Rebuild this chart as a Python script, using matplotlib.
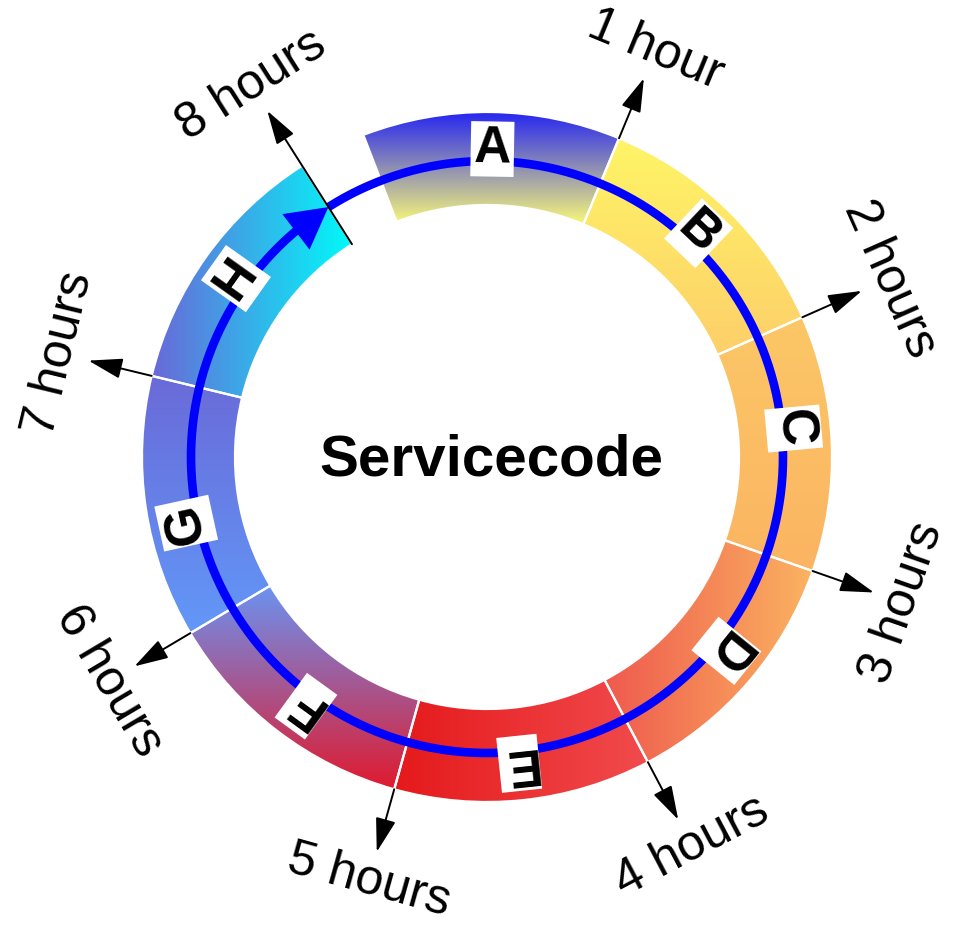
import numpy as np
import matplotlib
matplotlib.use("Agg")
import matplotlib.pyplot as plt
from matplotlib.patches import Wedge
from matplotlib.colors import LinearSegmentedColormap

plt.rcParams['font.family'] = ['Liberation Sans', 'DejaVu Sans']

CENTER_TITLE = "Servicecode"

# segments of the ring, angles in degrees (counter clockwise from 3 o'clock)
SEG_NAMES = ["A", "B", "C", "D", "E", "F", "G", "H"]
SEG_THETA1 = [67.5, 23.9, -19.3, -62.2, -105.6, -149.3, 166.4, 122.4]
SEG_THETA2 = [111.0, 67.5, 23.9, -19.3, -62.2, -105.6, 210.7, 166.4]
# gradient of each segment: first colour, second colour, direction
SEG_COL1 = ["#2424f2", "#fff566", "#fcc766", "#ef5a4e", "#e5191b", "#6b93f2", "#6a6ad8", "#6a68d8"]
SEG_COL2 = ["#f8f878", "#fdcf6a", "#fbb462", "#fbb461", "#f14b4d", "#e01a2e", "#6298f8", "#00fafa"]
SEG_DIR = ["v", "v", "v", "h", "h", "v", "v", "h"]
LETTER_ANGLES = [89.0, 46.6, 5.3, -39.0, -84.0, -126.0, -167.6, 144.6]

# hour marks
HOUR_LABELS = ["1 hour", "2 hours", "3 hours", "4 hours", "5 hours", "6 hours", "7 hours", "8 hours"]
HOUR_ANGLES = [67.5, 23.9, -19.3, -62.2, -105.6, -149.3, 166.4, 122.4]

R_IN = 252
R_OUT = 345
R_LOOP = 296
R_TIP = 410
R_LABEL = 440
R_LETTER = 308

fig = plt.figure(figsize=(9.55, 9.25), dpi=100)
ax = fig.add_axes([0, 0, 1, 1])
ax.set_xlim(-487, 468)
ax.set_ylim(-468, 457)
ax.axis('off')


def pol(r, a):
    return r * np.cos(np.radians(a)), r * np.sin(np.radians(a))


# gradient filled segments
for i in range(len(SEG_NAMES)):
    t1, t2 = SEG_THETA1[i], SEG_THETA2[i]
    th = np.radians(np.linspace(t1, t2, 200))
    xs = np.concatenate([R_OUT * np.cos(th), R_IN * np.cos(th)])
    ys = np.concatenate([R_OUT * np.sin(th), R_IN * np.sin(th)])
    cmap = LinearSegmentedColormap.from_list("seg%d" % i, [SEG_COL1[i], SEG_COL2[i]])
    if SEG_DIR[i] == "v":
        grad = np.linspace(1, 0, 256)[:, None]
    else:
        grad = np.linspace(0, 1, 256)[None, :]
    w = Wedge((0, 0), R_OUT, t1, t2, width=R_OUT - R_IN, fc='none', ec='white', lw=1.6, zorder=1)
    ax.add_patch(w)
    im = ax.imshow(grad, cmap=cmap, origin='lower', aspect='auto', interpolation='bilinear',
                   extent=(xs.min(), xs.max(), ys.min(), ys.max()), zorder=0)
    im.set_clip_path(w)

# hour arrows and labels
for i, a in enumerate(HOUR_ANGLES):
    r0 = R_IN if i == len(HOUR_ANGLES) - 1 else R_OUT
    ax.annotate("", xy=pol(R_TIP, a), xytext=pol(r0, a),
                arrowprops=dict(arrowstyle="-|>,head_length=1.5,head_width=0.45", mutation_scale=14,
                                color="black", lw=1.4, shrinkA=0, shrinkB=0), zorder=4)
    rot = a - 90
    if rot < -90:
        rot += 180
    if rot > 90:
        rot -= 180
    lx, ly = pol(R_LABEL, a)
    ax.text(lx, ly, HOUR_LABELS[i], fontsize=36, rotation=rot, rotation_mode='anchor',
            ha='center', va='center', zorder=5)

# blue loop, going clockwise all the way round, arrow head at the 8 hour mark
end = HOUR_ANGLES[-1]
th = np.radians(np.linspace(end + 360, end + 6, 400))
ax.plot(R_LOOP * np.cos(th), R_LOOP * np.sin(th), color="#0000ff", lw=6.2,
        solid_capstyle='butt', zorder=3)
ax.annotate("", xy=pol(R_LOOP, end), xytext=pol(R_LOOP, end + 10),
            arrowprops=dict(arrowstyle="-|>,head_length=2.1,head_width=1.15", mutation_scale=14,
                            color="#0000ff", lw=0, shrinkA=0, shrinkB=0), zorder=3)

# segment letters
for i, name in enumerate(SEG_NAMES):
    lx, ly = pol(R_LETTER, LETTER_ANGLES[i])
    ax.text(lx, ly, name, fontsize=37, fontweight='bold', rotation=LETTER_ANGLES[i] - 90,
            rotation_mode='anchor', ha='center', va='center', zorder=6,
            bbox=dict(boxstyle='square,pad=0.06', fc='white', ec='none'))

ax.text(4, -4, CENTER_TITLE, fontsize=42, fontweight='bold', ha='center', va='center')

fig.savefig("out.png", dpi=100)
